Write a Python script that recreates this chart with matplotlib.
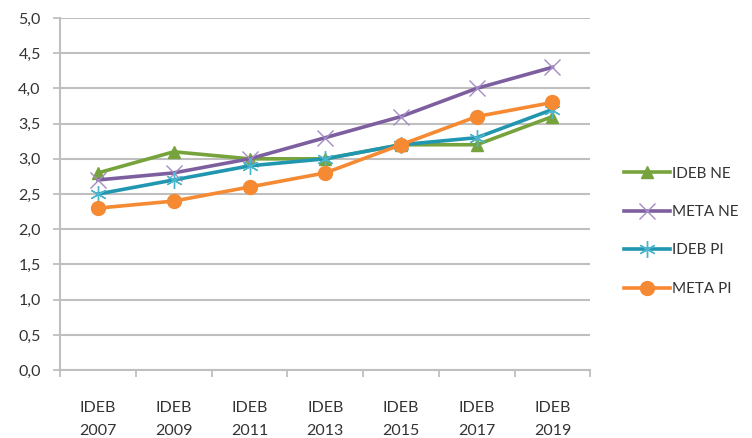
import numpy as np
import matplotlib
matplotlib.use("Agg")
import matplotlib.pyplot as plt

plt.rcParams['font.family'] = ['Lato', 'DejaVu Sans']

categories = ['IDEB\n2007', 'IDEB\n2009', 'IDEB\n2011', 'IDEB\n2013',
              'IDEB\n2015', 'IDEB\n2017', 'IDEB\n2019']
ideb_ne = [2.8, 3.1, 3.0, 3.0, 3.2, 3.2, 3.6]
meta_ne = [2.7, 2.8, 3.0, 3.3, 3.6, 4.0, 4.3]
ideb_pi = [2.5, 2.7, 2.9, 3.0, 3.2, 3.3, 3.7]
meta_pi = [2.3, 2.4, 2.6, 2.8, 3.2, 3.6, 3.8]
yticks = [0.0, 0.5, 1.0, 1.5, 2.0, 2.5, 3.0, 3.5, 4.0, 4.5, 5.0]

text_col = '#333333'
grid_col = '#bfbfbf'

fig = plt.figure(figsize=(7.52, 4.38), dpi=100)
ax = fig.add_axes([0.08, 0.155, 0.705, 0.804])

x = np.arange(len(categories))
ax.plot(x, ideb_ne, color='#77a33d', lw=2.6, marker='^', ms=8, label='IDEB NE', zorder=3)
ax.plot(x, meta_ne, color='#7d5fa0', lw=2.6, marker='x', ms=11, mew=1.0,
        mec='#a48cc4', label='META NE', zorder=3)
ax.plot(x, ideb_pi, color='#2196b0', lw=2.6, marker=(6, 2, 0), ms=12, mew=1.0,
        mec='#4ab5cc', label='IDEB PI', zorder=3)
ax.plot(x, meta_pi, color='#f58a33', lw=2.6, marker='o', ms=10, label='META PI', zorder=3)

ax.set_xlim(-0.5, len(categories) - 0.5)
ax.set_ylim(0, 5)
ax.set_yticks(yticks)
ax.set_yticklabels([f'{v:.1f}'.replace('.', ',') for v in yticks])
ax.yaxis.grid(True, color=grid_col, lw=1.5)
ax.set_axisbelow(True)

ax.set_xticks(x)
ax.set_xticklabels(categories, linespacing=1.85)
ax.set_xticks(np.arange(len(categories) + 1) - 0.5, minor=True)
ax.tick_params(axis='x', which='major', length=0, pad=22, labelsize=11.5, labelcolor=text_col)
ax.tick_params(axis='x', which='minor', length=5, width=1.3, color=grid_col, direction='out')
ax.tick_params(axis='y', length=5, width=1.3, color=grid_col, labelsize=11.5,
               labelcolor=text_col, pad=9)

for s in ['top', 'right']:
    ax.spines[s].set_visible(False)
for s in ['left', 'bottom']:
    ax.spines[s].set_color(grid_col)
    ax.spines[s].set_linewidth(1.5)

leg = fig.legend(loc='center left', bbox_to_anchor=(0.812, 0.472), frameon=False,
                 numpoints=1, handlelength=3.0, handletextpad=0.15,
                 labelspacing=1.6, fontsize=11)
for t in leg.get_texts():
    t.set_color(text_col)

fig.savefig('out.png', dpi=100)
